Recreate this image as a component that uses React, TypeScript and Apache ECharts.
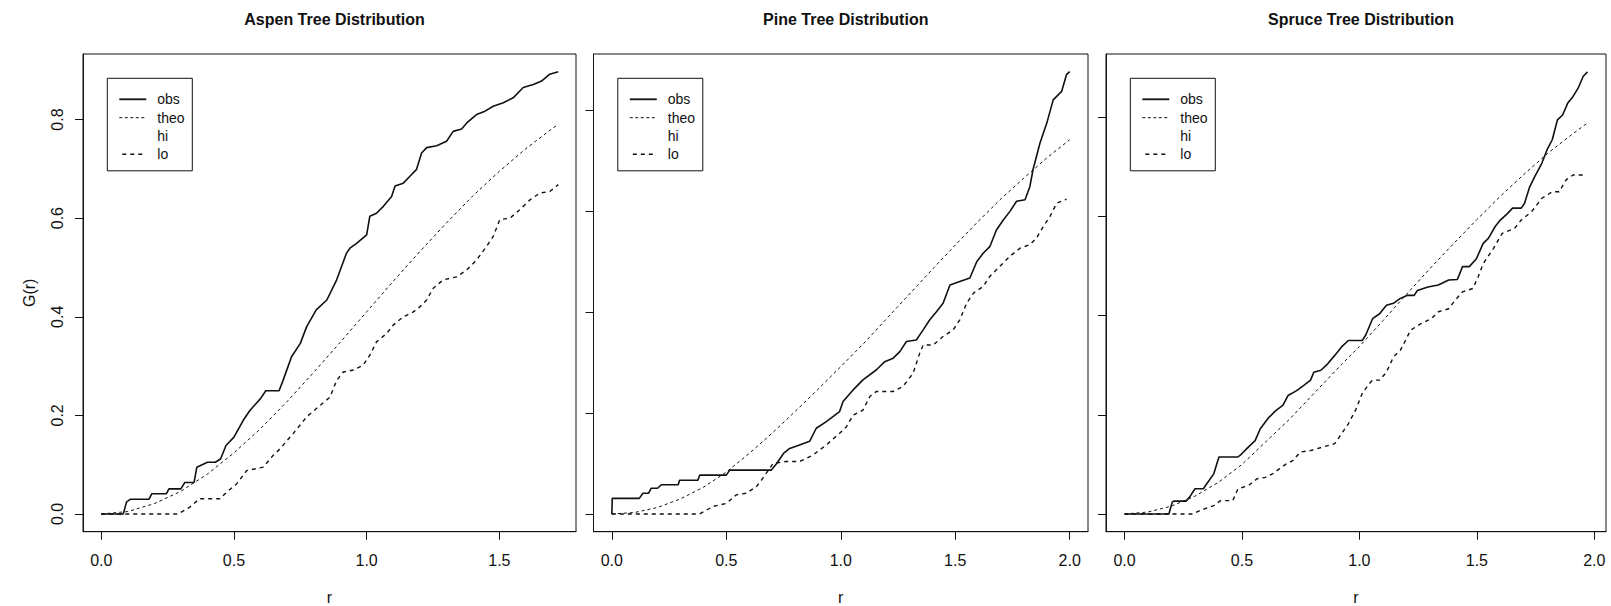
import React, { useEffect, useRef } from "react";
import * as echarts from "echarts";

const FONT = "'Liberation Sans', Arial, Helvetica, sans-serif";

const panelTitles = ["Aspen Tree Distribution", "Pine Tree Distribution", "Spruce Tree Distribution"];
const legendNames = ["obs", "theo", "hi", "lo"];
const xTicksAspen = [0, 0.5, 1, 1.5];
const xTicksPine = [0, 0.5, 1, 1.5, 2];
const xTicksSpruce = [0, 0.5, 1, 1.5, 2];
const yTicks = [0, 0.2, 0.4, 0.6, 0.8];

// ---- Aspen ----
const aspenObs: number[][] = [[0,0],[0.083,0],[0.095,0.024],[0.11,0.03],[0.18,0.03],[0.19,0.041],[0.245,0.041],[0.255,0.051],[0.3,0.051],[0.315,0.064],[0.35,0.064],[0.36,0.095],[0.4,0.105],[0.43,0.105],[0.45,0.112],[0.47,0.139],[0.5,0.156],[0.535,0.19],[0.56,0.21],[0.6,0.234],[0.62,0.25],[0.67,0.25],[0.685,0.271],[0.717,0.319],[0.75,0.346],[0.774,0.38],[0.81,0.414],[0.85,0.434],[0.887,0.475],[0.924,0.529],[0.937,0.539],[0.962,0.549],[1.0,0.566],[1.012,0.604],[1.037,0.61],[1.063,0.624],[1.094,0.644],[1.107,0.665],[1.138,0.671],[1.163,0.685],[1.188,0.699],[1.207,0.732],[1.226,0.743],[1.264,0.747],[1.301,0.756],[1.326,0.776],[1.358,0.781],[1.377,0.793],[1.414,0.81],[1.446,0.817],[1.477,0.827],[1.515,0.834],[1.552,0.844],[1.59,0.865],[1.628,0.871],[1.659,0.878],[1.69,0.892],[1.722,0.897]];
const aspenTheo: number[][] = [[0,0],[0.1,0.005],[0.2,0.021],[0.3,0.046],[0.4,0.081],[0.5,0.124],[0.6,0.173],[0.7,0.228],[0.8,0.287],[0.9,0.348],[1.0,0.41],[1.1,0.472],[1.2,0.532],[1.3,0.59],[1.4,0.645],[1.5,0.695],[1.6,0.741],[1.7,0.782],[1.722,0.79]];
const aspenLo: number[][] = [[0,0],[0.29,0],[0.334,0.014],[0.37,0.031],[0.447,0.031],[0.472,0.044],[0.51,0.061],[0.548,0.088],[0.61,0.095],[0.648,0.119],[0.673,0.132],[0.723,0.163],[0.774,0.197],[0.824,0.22],[0.862,0.237],[0.887,0.271],[0.912,0.288],[0.95,0.292],[0.987,0.302],[1.012,0.322],[1.037,0.349],[1.075,0.366],[1.1,0.383],[1.138,0.4],[1.176,0.41],[1.2,0.42],[1.226,0.434],[1.251,0.458],[1.289,0.475],[1.339,0.481],[1.377,0.495],[1.414,0.515],[1.452,0.543],[1.477,0.563],[1.502,0.597],[1.54,0.6],[1.577,0.617],[1.615,0.637],[1.653,0.651],[1.69,0.654],[1.722,0.668]];

// ---- Pine ----
const pineObs: number[][] = [[0,0],[0.002,0.031],[0.12,0.031],[0.136,0.041],[0.16,0.041],[0.172,0.051],[0.2,0.051],[0.216,0.058],[0.29,0.058],[0.296,0.067],[0.376,0.067],[0.384,0.077],[0.5,0.077],[0.515,0.087],[0.697,0.087],[0.72,0.1],[0.75,0.12],[0.777,0.13],[0.82,0.137],[0.864,0.144],[0.893,0.17],[0.937,0.183],[0.966,0.193],[0.995,0.203],[1.01,0.223],[1.054,0.246],[1.097,0.266],[1.156,0.286],[1.192,0.302],[1.229,0.309],[1.258,0.322],[1.287,0.342],[1.33,0.345],[1.36,0.365],[1.389,0.385],[1.418,0.401],[1.447,0.418],[1.477,0.454],[1.52,0.461],[1.564,0.468],[1.594,0.5],[1.622,0.517],[1.651,0.53],[1.68,0.563],[1.71,0.583],[1.739,0.6],[1.768,0.62],[1.805,0.623],[1.826,0.649],[1.84,0.683],[1.87,0.735],[1.9,0.775],[1.928,0.821],[1.965,0.838],[1.986,0.871],[2.0,0.877]];
const pineTheo: number[][] = [[0,0],[0.1,0.003],[0.2,0.013],[0.3,0.03],[0.4,0.053],[0.5,0.083],[0.6,0.12],[0.7,0.16],[0.8,0.203],[0.9,0.247],[1.0,0.292],[1.1,0.338],[1.2,0.387],[1.3,0.436],[1.4,0.485],[1.5,0.533],[1.6,0.58],[1.7,0.625],[1.8,0.666],[1.9,0.706],[2.0,0.742]];
const pineLo: number[][] = [[0,0],[0.384,0],[0.442,0.015],[0.5,0.021],[0.544,0.038],[0.587,0.041],[0.631,0.054],[0.66,0.071],[0.704,0.1],[0.76,0.104],[0.82,0.104],[0.879,0.117],[0.937,0.137],[0.995,0.16],[1.025,0.173],[1.054,0.196],[1.097,0.206],[1.127,0.233],[1.156,0.243],[1.229,0.243],[1.272,0.253],[1.316,0.279],[1.345,0.319],[1.36,0.335],[1.404,0.335],[1.447,0.352],[1.491,0.365],[1.52,0.385],[1.55,0.418],[1.58,0.438],[1.622,0.451],[1.651,0.471],[1.695,0.491],[1.739,0.511],[1.783,0.527],[1.826,0.534],[1.855,0.547],[1.885,0.57],[1.914,0.59],[1.943,0.616],[1.986,0.624]];

// ---- Spruce ----
const spruceObs: number[][] = [[0,0],[0.189,0],[0.203,0.024],[0.21,0.026],[0.262,0.026],[0.277,0.034],[0.3,0.051],[0.336,0.051],[0.35,0.061],[0.38,0.081],[0.402,0.115],[0.483,0.115],[0.498,0.121],[0.527,0.135],[0.556,0.148],[0.578,0.172],[0.615,0.195],[0.645,0.209],[0.674,0.219],[0.696,0.239],[0.733,0.249],[0.762,0.259],[0.792,0.27],[0.806,0.286],[0.836,0.29],[0.865,0.303],[0.895,0.32],[0.924,0.337],[0.953,0.35],[1.012,0.35],[1.027,0.361],[1.056,0.394],[1.086,0.404],[1.115,0.421],[1.145,0.425],[1.174,0.435],[1.203,0.441],[1.233,0.441],[1.247,0.451],[1.292,0.458],[1.336,0.462],[1.38,0.472],[1.417,0.473],[1.439,0.499],[1.468,0.499],[1.498,0.515],[1.527,0.546],[1.549,0.556],[1.578,0.58],[1.6,0.593],[1.63,0.606],[1.652,0.617],[1.689,0.617],[1.703,0.627],[1.725,0.66],[1.747,0.681],[1.777,0.708],[1.799,0.735],[1.821,0.755],[1.843,0.795],[1.865,0.805],[1.887,0.829],[1.909,0.842],[1.931,0.859],[1.953,0.883],[1.971,0.892]];
const spruceTheo: number[][] = [[0,0],[0.1,0.004],[0.2,0.016],[0.3,0.036],[0.4,0.064],[0.5,0.1],[0.6,0.145],[0.7,0.19],[0.8,0.24],[0.9,0.29],[1.0,0.338],[1.1,0.39],[1.2,0.443],[1.3,0.495],[1.4,0.545],[1.5,0.594],[1.6,0.641],[1.7,0.685],[1.8,0.727],[1.9,0.764],[1.971,0.789]];
const spruceLo: number[][] = [[0,0],[0.292,0],[0.321,0.007],[0.38,0.017],[0.409,0.027],[0.461,0.027],[0.483,0.051],[0.527,0.057],[0.564,0.071],[0.6,0.074],[0.63,0.081],[0.659,0.091],[0.689,0.101],[0.718,0.108],[0.748,0.125],[0.792,0.128],[0.895,0.142],[0.924,0.162],[0.953,0.182],[0.983,0.209],[1.012,0.243],[1.042,0.263],[1.056,0.27],[1.086,0.27],[1.115,0.286],[1.145,0.317],[1.174,0.33],[1.196,0.35],[1.218,0.371],[1.262,0.384],[1.306,0.394],[1.336,0.408],[1.38,0.414],[1.402,0.428],[1.439,0.448],[1.483,0.455],[1.505,0.478],[1.527,0.505],[1.571,0.536],[1.608,0.566],[1.66,0.576],[1.689,0.593],[1.733,0.61],[1.777,0.637],[1.821,0.65],[1.85,0.65],[1.88,0.674],[1.909,0.684],[1.961,0.684]];

const panels = [
  { title: panelTitles[0], left: 83, width: 493, xMin: -0.0688, xMax: 1.7888, yMin: -0.0359, yMax: 0.9329, xTicks: xTicksAspen, obs: aspenObs, theo: aspenTheo, lo: aspenLo },
  { title: panelTitles[1], left: 593.5, width: 494.5, xMin: -0.08, xMax: 2.08, yMin: -0.0351, yMax: 0.912, xTicks: xTicksPine, obs: pineObs, theo: pineTheo, lo: pineLo },
  { title: panelTitles[2], left: 1106, width: 500, xMin: -0.0788, xMax: 2.0498, yMin: -0.0357, yMax: 0.928, xTicks: xTicksSpruce, obs: spruceObs, theo: spruceTheo, lo: spruceLo },
];

const TOP = 54;
const HEIGHT = 477.7;
const INK = "#111";

export default function App() {
  const ref = useRef<HTMLDivElement>(null);
  useEffect(() => {
    if (!ref.current) return;
    const chart = echarts.init(ref.current, null, { renderer: "svg" });
    const grid: any[] = [];
    const xAxis: any[] = [];
    const yAxis: any[] = [];
    const series: any[] = [];
    const title: any[] = [];
    const graphic: any[] = [];
    panels.forEach((p, i) => {
      grid.push({ left: p.left, top: TOP, width: p.width, height: HEIGHT, show: true, borderColor: INK, borderWidth: 1, backgroundColor: "transparent", containLabel: false, outerBoundsMode: "none" });
      title.push({ text: p.title, left: p.left + p.width / 2, top: 6, textAlign: "center", textStyle: { fontFamily: FONT, fontSize: 16, fontWeight: "bold", color: INK } });
      xAxis.push({
        type: "value", gridIndex: i, min: p.xMin, max: p.xMax,
        name: "r", nameLocation: "middle", nameGap: 58,
        nameTextStyle: { fontFamily: FONT, fontSize: 16, color: INK },
        axisLine: { show: true, onZero: false, lineStyle: { color: INK, width: 1 } },
        axisTick: { show: true, inside: false, length: 8, customValues: p.xTicks, lineStyle: { color: INK, width: 1 } },
        axisLabel: { show: true, customValues: p.xTicks, margin: 21, fontFamily: FONT, fontSize: 16, color: INK, formatter: (v: number) => v.toFixed(1) },
        splitLine: { show: false },
      });
      yAxis.push({
        type: "value", gridIndex: i, min: p.yMin, max: p.yMax,
        name: i === 0 ? "G(r)" : "", nameLocation: "middle", nameGap: 46, nameRotate: 90,
        nameTextStyle: { fontFamily: FONT, fontSize: 16, color: INK },
        axisLine: { show: true, onZero: false, lineStyle: { color: INK, width: 1 } },
        axisTick: { show: true, inside: false, length: 8, customValues: yTicks, lineStyle: { color: INK, width: 1 } },
        axisLabel: { show: i === 0, customValues: yTicks, rotate: 90, margin: 18, fontFamily: FONT, fontSize: 16, color: INK, formatter: (v: number) => v.toFixed(1) },
        splitLine: { show: false },
      });
      series.push({ name: "obs", type: "line", xAxisIndex: i, yAxisIndex: i, data: p.obs, showSymbol: false, symbol: "none", lineStyle: { color: INK, width: 1.6 }, z: 3 });
      series.push({ name: "theo", type: "line", xAxisIndex: i, yAxisIndex: i, data: p.theo, showSymbol: false, symbol: "none", lineStyle: { color: INK, width: 1, type: [3, 3] }, z: 2 });
      series.push({ name: "lo", type: "line", xAxisIndex: i, yAxisIndex: i, data: p.lo, showSymbol: false, symbol: "none", lineStyle: { color: INK, width: 1.4, type: [4, 4] }, z: 2 });
      const rows = [21, 39.4, 57.7, 76];
      graphic.push({
        type: "group", x: p.left + 24.3, y: TOP + 24.3, z: 10,
        children: [
          { type: "rect", shape: { x: 0, y: 0, width: 85, height: 92.5 }, style: { fill: "#fff", stroke: INK, lineWidth: 1 } },
          { type: "line", shape: { x1: 12, y1: rows[0], x2: 39, y2: rows[0] }, style: { stroke: INK, lineWidth: 1.8 } },
          { type: "line", shape: { x1: 12, y1: rows[1], x2: 39, y2: rows[1] }, style: { stroke: INK, lineWidth: 1, lineDash: [3, 2.5] } },
          { type: "line", shape: { x1: 15, y1: rows[3], x2: 39, y2: rows[3] }, style: { stroke: INK, lineWidth: 1.4, lineDash: [4, 4] } },
          ...legendNames.map((n, k) => ({ type: "text", x: 50, y: rows[k], style: { text: n, fontFamily: FONT, fontSize: 14, fill: INK, verticalAlign: "middle", align: "left" } })),
        ],
      });
    });
    chart.setOption({ animation: false, backgroundColor: "#fff", title, grid, xAxis, yAxis, series, graphic });
    return () => chart.dispose();
  }, []);
  return <div ref={ref} style={{ position: "absolute", left: 0, top: 0, width: 1611, height: 606 }} />;
}
